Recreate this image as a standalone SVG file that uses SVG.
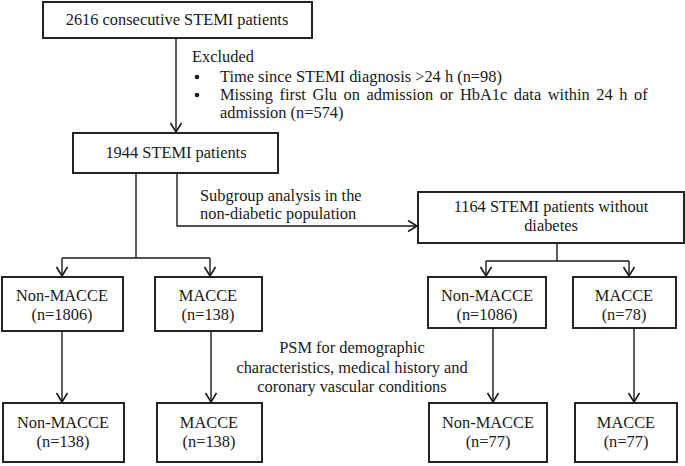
<svg xmlns="http://www.w3.org/2000/svg" width="685" height="466" viewBox="0 0 685 466">
<style>
  .box { fill: #ffffff; stroke: #1a1a1a; stroke-width: 1.9; }
  .t { font-family: "Liberation Serif", "Times New Roman", serif; font-size: 16.4px; fill: #1a1a1a; }
  .c { text-anchor: middle; }
  .ln { fill: none; stroke: #1a1a1a; stroke-width: 1.4; }
  .arr { marker-end: url(#ah); }
</style>
<defs>
  <marker id="ah" markerUnits="userSpaceOnUse" markerWidth="16" markerHeight="16" refX="10" refY="6" orient="auto">
    <path d="M1,0.5 L10,6 L1,11.5" fill="none" stroke="#1a1a1a" stroke-width="1.6"/>
  </marker>
</defs>
<rect width="685" height="466" fill="#ffffff"/>

<g id="connectors">
  <line class="ln arr" x1="176" y1="38" x2="176" y2="132"/>
  <polyline class="ln" points="136,173 136,258"/>
  <line class="ln" x1="62" y1="258" x2="210" y2="258"/>
  <line class="ln arr" x1="62" y1="258" x2="62" y2="276"/>
  <line class="ln arr" x1="210" y1="258" x2="210" y2="276"/>
  <polyline class="ln arr" points="177,173 177,226 417,226"/>
  <line class="ln" x1="557" y1="243" x2="557" y2="261"/>
  <line class="ln" x1="486" y1="261" x2="629" y2="261"/>
  <line class="ln arr" x1="486" y1="261" x2="486" y2="276"/>
  <line class="ln arr" x1="629" y1="261" x2="629" y2="276"/>
  <line class="ln arr" x1="62" y1="331" x2="62" y2="402"/>
  <line class="ln arr" x1="211" y1="331" x2="211" y2="402"/>
  <line class="ln arr" x1="493" y1="328" x2="493" y2="402"/>
  <line class="ln arr" x1="634" y1="328" x2="634" y2="402"/>
</g>

<g id="n_all">
  <rect class="box" x="43" y="2" width="269" height="36"/>
  <text class="t c" x="177" y="25">2616 consecutive STEMI patients</text>
</g>

<g id="excluded">
  <text class="t" x="192" y="62">Excluded</text>
  <circle cx="197" cy="77" r="2.3" fill="#1a1a1a"/>
  <text class="t" x="220" y="82">Time since STEMI diagnosis &gt;24 h (n=98)</text>
  <circle cx="197" cy="95" r="2.3" fill="#1a1a1a"/>
  <text class="t" x="220" y="100" word-spacing="2.5">Missing first Glu on admission or HbA1c data within 24 h of</text>
  <text class="t" x="220" y="118">admission (n=574)</text>
</g>

<g id="n_1944">
  <rect class="box" x="73" y="133" width="205" height="40"/>
  <text class="t c" x="176" y="158">1944 STEMI patients</text>
</g>

<g id="subgroup_label">
  <text class="t" x="200" y="201">Subgroup analysis in the</text>
  <text class="t" x="200" y="219">non-diabetic population</text>
</g>

<g id="n_1164">
  <rect class="box" x="418" y="192" width="266" height="51"/>
  <text class="t c" x="551" y="212">1164 STEMI patients without</text>
  <text class="t c" x="551" y="231">diabetes</text>
</g>

<g id="n_nonmacce_1806">
  <rect class="box" x="2" y="277" width="121" height="54"/>
  <text class="t c" x="62" y="301">Non-MACCE</text>
  <text class="t c" x="62" y="320">(n=1806)</text>
</g>
<g id="n_macce_138a">
  <rect class="box" x="155" y="277" width="107" height="54"/>
  <text class="t c" x="208" y="301">MACCE</text>
  <text class="t c" x="208" y="320">(n=138)</text>
</g>
<g id="n_nonmacce_1086">
  <rect class="box" x="428" y="277" width="118" height="51"/>
  <text class="t c" x="487" y="301">Non-MACCE</text>
  <text class="t c" x="487" y="320">(n=1086)</text>
</g>
<g id="n_macce_78">
  <rect class="box" x="573" y="277" width="103" height="51"/>
  <text class="t c" x="624" y="301">MACCE</text>
  <text class="t c" x="624" y="320">(n=78)</text>
</g>

<g id="psm_label">
  <text class="t c" x="352" y="353">PSM for demographic</text>
  <text class="t c" x="352" y="373">characteristics, medical history and</text>
  <text class="t c" x="352" y="392">coronary vascular conditions</text>
</g>

<g id="n_nonmacce_138">
  <rect class="box" x="3" y="403" width="121" height="59"/>
  <text class="t c" x="63" y="428">Non-MACCE</text>
  <text class="t c" x="63" y="447">(n=138)</text>
</g>
<g id="n_macce_138b">
  <rect class="box" x="157" y="403" width="105" height="59"/>
  <text class="t c" x="209" y="428">MACCE</text>
  <text class="t c" x="209" y="447">(n=138)</text>
</g>
<g id="n_nonmacce_77">
  <rect class="box" x="429" y="403" width="118" height="59"/>
  <text class="t c" x="488" y="428">Non-MACCE</text>
  <text class="t c" x="488" y="447">(n=77)</text>
</g>
<g id="n_macce_77">
  <rect class="box" x="575" y="403" width="102" height="59"/>
  <text class="t c" x="626" y="428">MACCE</text>
  <text class="t c" x="626" y="447">(n=77)</text>
</g>
</svg>
